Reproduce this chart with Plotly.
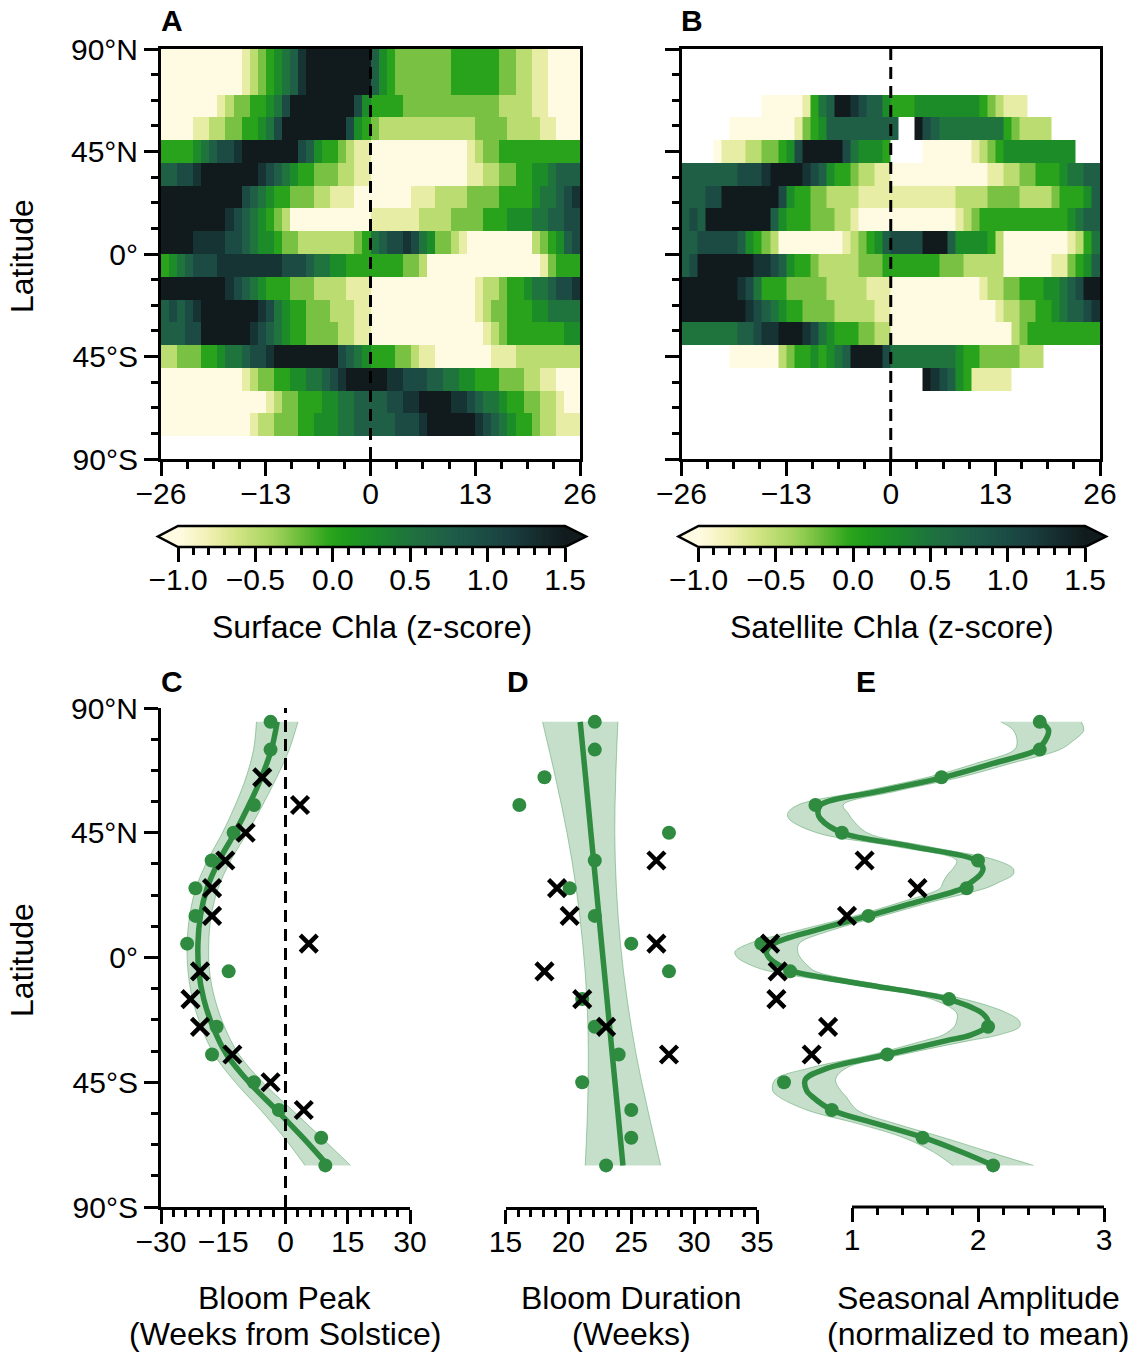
import numpy as np
import plotly.graph_objects as go

W, H = 1137, 1352
FONT = "Liberation Sans, Arial, Helvetica, sans-serif"
GREEN = "#2e8b40"
BAND = "rgba(46,139,64,0.28)"
BAND_EDGE = "rgba(46,139,64,0.40)"
MINUS = "\u2212"


def fx(px):
    return px / W


def fy(py):
    return 1 - py / H


# ---------------------------------------------------------------------------
# Panels A/B: weekly chlorophyll z-score by latitude band
# cell code: '0'..'9','X' -> -1.00 .. 1.50 in steps of 0.25, '.' = no data
# rows run north to south, columns are weeks -26 .. 25
# ---------------------------------------------------------------------------
week_edges = list(range(-26, 27))
lat_edges = [-80, -70, -60, -50, -40, -30, -20, -10, 0, 10, 20, 30, 40, 50, 60, 70, 90]

surface_rows = [
    "0000000000" "12345679" "XXXXXXXX" "75" "43333333" "444444" "332" "21" "1" "0000",
    "0000000" "1" "2" "33" "44" "5" "6" "8" "XXXXXXXX" "8" "5" "4444" "3333333333" "33" "2222" "11" "0000",
    "0000" "11" "22" "33" "44" "5" "6" "8" "XXXXXXXX" "8" "5" "4" "3" "22222" "2222222" "3333" "2222" "11" "000",
    "4444" "5" "6" "7" "88" "9" "XXXXXXX" "8" "7" "5" "44" "3" "2" "11" "000000000000" "1" "2" "33" "44" "44444444",
    "77" "88" "9" "XXXXXXX" "9" "8" "7" "6" "5" "44" "333" "22" "11" "000000000000" "11" "22" "33" "44" "55" "6" "777",
    "XXXXXXXXXX" "8" "7" "6" "5" "44" "333" "22" "111" "00" "00000" "111" "2222" "3333" "4444" "5" "66" "7" "8" "9",
    "XXXXXXXX" "98765432" "0000000000" "111111" "2222" "3333" "444" "555" "66" "77" "88",
    "XXXX" "9999" "88" "7" "6" "55" "4" "33" "2222222" "3" "4" "6" "7" "88" "9" "8" "6" "5" "33" "2" "1" "00000000" "2" "3" "4" "5" "7" "8",
    "4" "5" "6" "7" "888" "99999999" "888" "7" "66" "5" "5444" "4444" "33" "2" "00000000000000" "1" "3" "444",
    "XXXXXXXX" "9" "8" "7" "6" "5" "444" "333" "2222" "111" "0000000000000" "1" "22" "3" "44" "5" "66" "7" "88" "9",
    "78789" "XXXXXXX" "9" "8" "6" "5" "44" "333" "222" "11" "0000000000000" "1" "2" "33" "444" "55" "6666",
    "77788" "XXXXXX" "9" "8" "7" "6" "5" "44" "3" "333" "22" "11" "00000000000000" "1" "2" "3" "44444" "4455",
    "22" "333" "44" "5" "66" "7" "88" "9" "XXXXXXXX" "8" "7" "6" "5" "444" "33" "2" "11" "0000000" "111" "22222222",
    "0000000000" "1" "2" "33" "44" "55" "66" "7" "8" "9" "XXX" "XX" "9" "9" "888" "77" "66" "55" "444" "333" "22" "11" "000",
    "0000000000000" "1" "2" "33" "444" "55" "66" "77" "7788" "99" "XXXX" "99" "8" "7" "66" "5" "44" "33" "22" "1" "00",
    "00000000000" "1" "22" "333" "44" "555" "66" "77" "777888" "9" "XXXXXX" "9" "8" "7" "6" "5" "44" "3" "22" "111",
]

satellite_rows = [
    "." * 52,
    ".........." "00000" "1" "4" "6" "7" "XX" "9" "8" "77" "5" "444" "5" "5555555" "4" "3" "2" "111" ".........",
    "......" "00000000" "1" "3" "4" "5" "7" "7777777" "7" ".." "X" "8" "7" "66666666" "4" "3" "2222" "......",
    "...." "0" "111" "22" "33" "4" "5" "8" "XXXXX" "8" "6" "555" "4" "...." "000000" "1" "2" "3" "4" "555555555" "...",
    "7777777" "888" "9XXXX9" "8" "7" "5" "44" "3" "22" "11" "000000000000" "11" "22" "33" "444" "5" "66" "77",
    "777" "88" "XXXXXXX" "8" "5" "44" "33" "2222" "1111" "111111" "11" "2222" "3333" "2222" "3" "444" "5" "7",
    "787" "XXXXXXXX" "7" "5" "444" "333" "22" "1" "0000" "00000000" "1" "2" "3" "44444444444" "5" "6" "77",
    "77" "88888" "7" "5" "4" "3" "2" "00000000" "1" "2" "3" "4" "5" "7" "8888" "XXX" "7" "5555" "4" "2" "00000000" "1" "2" "4" "6",
    "78" "XXXXXXX" "99" "8" "7" "5" "44" "3" "22222" "333" "4" "444444" "333" "22222" "000000" "11" "3" "4" "5" "7",
    "XXXXXXX" "9" "8" "6" "444" "33333" "22222" "11" "1" "00000000000" "1" "22" "33" "4" "4455" "6" "7" "8" "XX",
    "XXXXXXXX" "9" "8" "7" "6" "544" "3333" "22222" "11" "0000000000000" "1" "22" "33" "44" "5" "6" "77" "8" "9",
    "666666677" "8" "99XXX9" "8" "6" "5" "444" "33" "22" "000000000000000" "2" "3" "4" "44444444",
    "......" "000000" "2" "3" "44" "5" "4" "5" "6" "7" "XXXX" "8" "66666666" "5" "44" "33" "333" "222" ".......",
    "." * 30 + "X" "9" "8" "7" "5" "4" "11111" + "." * 11,
    "." * 52,
    "." * 52,
]

# ---------------------------------------------------------------------------
# Panel C: bloom peak (weeks from solstice)
# ---------------------------------------------------------------------------
c_dot_lat = [85, 75, 55, 45, 35, 25, 15, 5, -5, -25, -35, -45, -55, -65, -75]
c_dot_wk = [-3.6, -3.6, -7.6, -12.5, -17.8, -21.7, -21.7, -23.7, -13.7, -16.6, -17.7, -7.6, -1.6, 8.6, 9.6]
c_x_lat = [65, 55, 45, 35, 25, 15, 5, -5, -15, -25, -35, -45, -55]
c_x_wk = [-5.6, 3.5, -9.6, -14.5, -17.7, -17.7, 5.6, -20.6, -22.9, -20.6, -12.8, -3.6, 4.4]
c_fit_lat = [85, 75, 65, 55, 45, 35, 25, 15, 5, -5, -15, -25, -35, -45, -55, -65, -75]
c_fit_wk = [-2.0, -3.4, -5.8, -8.8, -12.2, -16.0, -18.9, -20.5, -21.1, -20.9, -19.7, -17.5, -14.2, -8.8, -2.2, 4.2, 10.2]
c_ci = [5.0, 4.3, 3.7, 3.3, 3.0, 2.8, 2.7, 2.6, 2.6, 2.6, 2.7, 2.8, 3.0, 3.3, 3.8, 4.5, 5.5]

# ---------------------------------------------------------------------------
# Panel D: bloom duration (weeks)
# ---------------------------------------------------------------------------
d_dot_lat = [85, 75, 65, 55, 45, 35, 25, 15, 5, -5, -15, -25, -35, -45, -55, -65, -75]
d_dot_wk = [22.1, 22.1, 18.1, 16.1, 28.0, 22.1, 20.1, 22.1, 25.0, 28.0, 21.1, 22.1, 24.0, 21.1, 25.0, 25.0, 23.0]
d_x_lat = [35, 25, 15, 5, -5, -15, -25, -35]
d_x_wk = [27.0, 19.1, 20.1, 27.0, 18.1, 21.1, 23.0, 28.0]
d_fit_lat = [85, 65, 45, 25, 5, -15, -35, -55, -75]
d_fit_wk = [20.94, 21.37, 21.79, 22.22, 22.64, 23.07, 23.49, 23.92, 24.34]
d_ci = [3.0, 2.4, 1.9, 1.6, 1.5, 1.6, 1.9, 2.4, 3.0]

# ---------------------------------------------------------------------------
# Panel E: seasonal amplitude (normalized to mean)
# ---------------------------------------------------------------------------
e_dot_lat = [85, 75, 65, 55, 45, 35, 25, 15, 5, -5, -15, -25, -35, -45, -55, -65, -75]
e_dot_amp = [2.49, 2.49, 1.71, 0.71, 0.92, 2.00, 1.91, 1.13, 0.28, 0.51, 1.77, 2.08, 1.28, 0.46, 0.84, 1.56, 2.12]
e_x_lat = [35, 25, 15, 5, -5, -15, -25, -35]
e_x_amp = [1.10, 1.52, 0.96, 0.35, 0.41, 0.40, 0.81, 0.68]
e_fit_lat = [85, 82, 78, 75, 70, 65, 60, 55, 52, 50, 45, 40, 35, 32, 30, 27, 25, 20, 15, 10,
             5, 2, 0, -3, -5, -10, -15, -20, -23, -25, -28, -30, -35, -40, -44, -48, -50, -55, -60, -65,
             -70, -75]
e_fit_amp = [2.50, 2.56, 2.53, 2.47, 2.12, 1.73, 1.22, 0.75, 0.73, 0.75, 0.92, 1.48, 1.99, 2.04, 2.02, 1.94, 1.88, 1.51, 1.13, 0.72,
             0.38, 0.32, 0.34, 0.43, 0.53, 1.14, 1.76, 2.03, 2.08, 2.07, 1.94, 1.75, 1.28, 0.80, 0.63, 0.64, 0.68, 0.84, 1.20, 1.57,
             1.86, 2.12]
e_ci = [0.32, 0.28, 0.22, 0.18, 0.14, 0.13, 0.13, 0.18, 0.24, 0.25, 0.20, 0.13, 0.16, 0.24, 0.26, 0.22, 0.18, 0.12, 0.11, 0.13,
        0.20, 0.25, 0.25, 0.22, 0.18, 0.11, 0.13, 0.20, 0.25, 0.26, 0.22, 0.18, 0.12, 0.15, 0.24, 0.27, 0.27, 0.20, 0.15, 0.16,
        0.22, 0.32]

# colour ramp for chlorophyll z-score (range -1 .. 1.5)
CHLA_SCALE = [
    [0.000, "#fffbe3"], [0.076, "#f2f1b6"], [0.144, "#d6e688"], [0.248, "#a2d35c"],
    [0.316, "#6cbc3a"], [0.388, "#2ca61c"], [0.436, "#1f9a1c"], [0.508, "#1c8a2a"],
    [0.612, "#1f7040"], [0.724, "#1e5a48"], [0.852, "#1a4040"], [1.000, "#111b1d"],
]
LEVELS = "0123456789X"


def decode(rows):
    z = []
    for r in rows[::-1]:
        assert len(r) == 52, len(r)
        z.append([np.nan if c == "." else -1.0 + 0.25 * LEVELS.index(c) for c in r])
    return z


fig = go.Figure()

# heatmaps
for rows, xa, ya in [(surface_rows, "x", "y"), (satellite_rows, "x2", "y2")]:
    fig.add_trace(go.Heatmap(x=week_edges, y=lat_edges, z=decode(rows), zmin=-1, zmax=1.5,
                             colorscale=CHLA_SCALE, showscale=False, xaxis=xa, yaxis=ya,
                             hoverinfo="skip"))

# colour bars drawn as ramps
ramp = np.linspace(-1.0, 1.5, 301)
for xa, ya in [("x3", "y3"), ("x4", "y4")]:
    fig.add_trace(go.Heatmap(x=ramp, y=[0, 1], z=[ramp], zmin=-1, zmax=1.5, colorscale=CHLA_SCALE,
                             showscale=False, xaxis=xa, yaxis=ya, hoverinfo="skip"))


def band(lat, mid, ci, xa, ya, shape):
    lo = [m - c for m, c in zip(mid, ci)]
    hi = [m + c for m, c in zip(mid, ci)]
    fig.add_trace(go.Scatter(x=lo, y=lat, mode="lines", line=dict(color=BAND_EDGE, width=1, shape=shape),
                             xaxis=xa, yaxis=ya, hoverinfo="skip"))
    fig.add_trace(go.Scatter(x=hi, y=lat, mode="lines", line=dict(color=BAND_EDGE, width=1, shape=shape),
                             fill="tonextx", fillcolor=BAND, xaxis=xa, yaxis=ya, hoverinfo="skip"))


def panel(fit_lat, fit_x, ci, dot_lat, dot_x, x_lat, x_x, xa, ya, shape):
    band(fit_lat, fit_x, ci, xa, ya, shape)
    fig.add_trace(go.Scatter(x=fit_x, y=fit_lat, mode="lines", line=dict(color=GREEN, width=5.5, shape=shape),
                             xaxis=xa, yaxis=ya))
    fig.add_trace(go.Scatter(x=dot_x, y=dot_lat, mode="markers", marker=dict(color=GREEN, size=14),
                             xaxis=xa, yaxis=ya))
    fig.add_trace(go.Scatter(x=x_x, y=x_lat, mode="markers",
                             marker=dict(symbol="x-thin", size=17, line=dict(width=4.5, color="black")),
                             xaxis=xa, yaxis=ya))


panel(c_fit_lat, c_fit_wk, c_ci, c_dot_lat, c_dot_wk, c_x_lat, c_x_wk, "x5", "y5", "spline")
panel(d_fit_lat, d_fit_wk, d_ci, d_dot_lat, d_dot_wk, d_x_lat, d_x_wk, "x6", "y6", "spline")
panel(e_fit_lat, e_fit_amp, e_ci, e_dot_lat, e_dot_amp, e_x_lat, e_x_amp, "x7", "y7", "spline")

TICKFONT = dict(size=30, family=FONT, color="black")


def minor(vals, length=7):
    return dict(tickmode="array", tickvals=vals, ticks="outside", ticklen=length, tickwidth=2.5,
                tickcolor="black", showgrid=False)


def axis(**kw):
    d = dict(showgrid=False, zeroline=False, ticks="outside", ticklen=14, tickwidth=2.5, tickcolor="black",
             linecolor="black", linewidth=3, tickfont=TICKFONT, tickmode="array", fixedrange=True,
             automargin=False)
    d.update(kw)
    return d


def xaxis_(**kw):
    return axis(ticklabelstandoff=-8, **kw)


lat_ticks = [-90, -45, 0, 45, 90]
lat_text = ["90°S", "45°S", "0°", "45°N", "90°N"]
lat_minor = [-90 + 11.25 * k for k in range(17)]
wk_minor = [-26 + 3.25 * k for k in range(17)]
cb_minor = [round(-1 + 0.1 * k, 2) for k in range(26)]

top_y = [fy(459), fy(49)]
cb_y = [fy(547), fy(526)]
bot_y = [fy(1207), fy(708)]

layout = dict(
    width=W, height=H, margin=dict(l=0, r=0, t=0, b=0, autoexpand=False),
    paper_bgcolor="white", plot_bgcolor="rgba(0,0,0,0)", showlegend=False,
    font=dict(family=FONT, size=30, color="black"),
    xaxis=xaxis_(domain=[fx(161), fx(580)], range=[-26, 26], anchor="y", showline=True, mirror=True,
                 tickvals=[-26, -13, 0, 13, 26], ticktext=[MINUS + "26", MINUS + "13", "0", "13", "26"],
                 minor=minor(wk_minor)),
    yaxis=axis(domain=top_y, range=[-90, 90], anchor="x", showline=True, mirror=True,
               tickvals=lat_ticks, ticktext=lat_text, minor=minor(lat_minor)),
    xaxis2=xaxis_(domain=[fx(681.5), fx(1100)], range=[-26, 26], anchor="y2", showline=True, mirror=True,
                  tickvals=[-26, -13, 0, 13, 26], ticktext=[MINUS + "26", MINUS + "13", "0", "13", "26"],
                  minor=minor(wk_minor)),
    yaxis2=axis(domain=top_y, range=[-90, 90], anchor="x2", showline=True, mirror=True,
                tickvals=lat_ticks, showticklabels=False, minor=minor(lat_minor)),
    xaxis3=xaxis_(domain=[fx(178), fx(565)], range=[-1, 1.5], anchor="y3", showline=False,
                  tickvals=[-1, -0.5, 0, 0.5, 1, 1.5],
                  ticktext=[MINUS + "1.0", MINUS + "0.5", "0.0", "0.5", "1.0", "1.5"], minor=minor(cb_minor)),
    yaxis3=dict(domain=cb_y, range=[0, 1], visible=False, anchor="x3", fixedrange=True),
    xaxis4=xaxis_(domain=[fx(698.5), fx(1085)], range=[-1, 1.5], anchor="y4", showline=False,
                  tickvals=[-1, -0.5, 0, 0.5, 1, 1.5],
                  ticktext=[MINUS + "1.0", MINUS + "0.5", "0.0", "0.5", "1.0", "1.5"], minor=minor(cb_minor)),
    yaxis4=dict(domain=cb_y, range=[0, 1], visible=False, anchor="x4", fixedrange=True),
    xaxis5=xaxis_(domain=[fx(161), fx(410)], range=[-30, 30], anchor="y5", showline=True,
                  tickvals=[-30, -15, 0, 15, 30], ticktext=[MINUS + "30", MINUS + "15", "0", "15", "30"],
                  minor=minor([-30 + 3 * k for k in range(21)])),
    yaxis5=axis(domain=bot_y, range=[-90, 90], anchor="x5", showline=True,
                tickvals=lat_ticks, ticktext=lat_text, minor=minor(lat_minor)),
    xaxis6=xaxis_(domain=[fx(505.5), fx(757)], range=[15, 35], anchor="y6", showline=True,
                  tickvals=[15, 20, 25, 30, 35], minor=minor(list(range(15, 36)))),
    yaxis6=dict(domain=bot_y, range=[-90, 90], visible=False, anchor="x6", fixedrange=True),
    xaxis7=xaxis_(domain=[fx(726), fx(1104)], range=[0, 3], anchor="y7", showline=False,
                  tickvals=[1, 2, 3], minor=minor([round(1 + 0.2 * k, 1) for k in range(11)])),
    yaxis7=dict(domain=bot_y, range=[-90, 90], visible=False, anchor="x7", fixedrange=True),
)
fig.update_layout(**layout)

shapes = []
dash = dict(color="black", width=3, dash="12px,7px")
for xr, yr in [("x", "y"), ("x2", "y2"), ("x5", "y5")]:
    shapes.append(dict(type="line", xref=xr, yref=yr, x0=0, x1=0, y0=-90, y1=90, line=dash, layer="above"))

# bounded bottom spine for panel E
shapes.append(dict(type="line", xref="x7", yref="paper", x0=1, x1=3, y0=fy(1207), y1=fy(1207),
                   line=dict(color="black", width=3)))


def ppath(points, close=True):
    s = "M " + " L ".join(f"{fx(a):.5f},{fy(b):.5f}" for a, b in points)
    return s + (" Z" if close else "")


# colour bar end caps and outlines
for left, right in [(178, 565), (698.5, 1085)]:
    top, bot = 526, 547
    mid = (top + bot) / 2
    shapes.append(dict(type="path", xref="paper", yref="paper",
                       path=ppath([(left, top), (left - 20, mid), (left, bot)]),
                       fillcolor=CHLA_SCALE[0][1], line=dict(width=0)))
    shapes.append(dict(type="path", xref="paper", yref="paper",
                       path=ppath([(right, top), (right + 21, mid), (right, bot)]),
                       fillcolor=CHLA_SCALE[-1][1], line=dict(width=0)))
    shapes.append(dict(type="path", xref="paper", yref="paper",
                       path=ppath([(left, top), (right, top), (right + 21, mid), (right, bot),
                                   (left, bot), (left - 20, mid)]),
                       line=dict(color="black", width=2.5)))
fig.update_layout(shapes=shapes)

ann = []


def text(s, x, y, size=32, bold=False, angle=0):
    ann.append(dict(text=f"<b>{s}</b>" if bold else s, x=fx(x), y=fy(y), xref="paper", yref="paper",
                    showarrow=False, xanchor="center", yanchor="middle", textangle=angle,
                    font=dict(size=size, family=FONT, color="black")))


text("A", 172, 21, size=30, bold=True)
text("B", 692, 21, size=30, bold=True)
text("C", 172, 681, size=30, bold=True)
text("D", 518, 681, size=30, bold=True)
text("E", 866, 681, size=30, bold=True)
text("Latitude", 22, 256, angle=-90)
text("Latitude", 22, 960, angle=-90)
text("Surface Chla (z-score)", 371.5, 627)
text("Satellite Chla (z-score)", 891.5, 627)
text("Bloom Peak", 285, 1298)
text("(Weeks from Solstice)", 285, 1334)
text("Bloom Duration", 631, 1298)
text("(Weeks)", 631, 1334)
text("Seasonal Amplitude", 978, 1298)
text("(normalized to mean)", 978, 1334)
fig.update_layout(annotations=ann)

fig.write_html("out.html")
